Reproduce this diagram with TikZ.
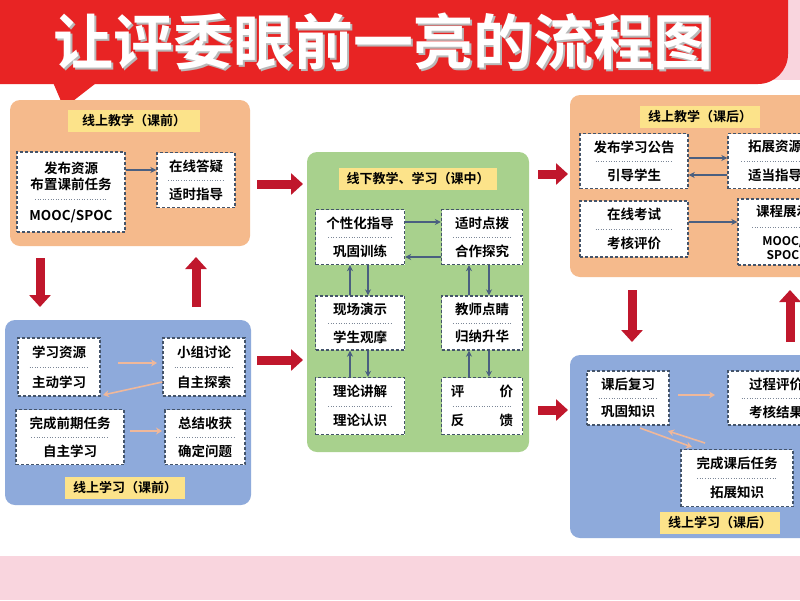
\documentclass[tikz,border=0pt]{standalone}
\usepackage{fontspec}
\setmainfont{Noto Sans CJK SC}[BoldFont={* Bold}]
\usetikzlibrary{arrows.meta,calc}
\definecolor{bgpink}{HTML}{F9D5DE}
\definecolor{tred}{HTML}{E82424}
\definecolor{orng}{HTML}{F5BA8C}
\definecolor{blu}{HTML}{8EAADB}
\definecolor{grn}{HTML}{A8D18D}
\definecolor{lab}{HTML}{FCE38A}
\definecolor{dk}{HTML}{44546A}
\definecolor{arr}{HTML}{4A5F80}
\definecolor{salm}{HTML}{F0B89A}
\definecolor{bigred}{HTML}{C0172C}
\tikzset{
 panel/.style={rounded corners=10pt,draw=none},
 ibox/.style={draw=dk,fill=white,dashed,line width=1.4pt,dash pattern=on 3pt off 2pt,inner sep=0},
 itxt/.style={font=\bfseries\fontsize{13.5}{16}\selectfont,text=black,align=center,inner sep=0},
 sep/.style={draw=dk!70,dotted,line width=0.6pt},
 lbl/.style={fill=lab,font=\bfseries\fontsize{13}{15}\selectfont,inner sep=3pt,minimum height=22pt},
 sm/.style={draw=arr,line width=1.3pt,-{Stealth[length=6pt,width=6pt]}},
 sa/.style={draw=salm,line width=1.6pt,-{Stealth[length=6pt,width=7pt]}},
 big/.style={draw=bigred,line width=9pt,-{Triangle[width=21pt,length=12pt]}},
}
% name, cx, cy, w, h, top, bottom
\newcommand\ibx[7]{%
 \node[ibox,minimum width=#4pt,minimum height=#5pt] (#1) at (#2,#3) {};
 \draw[sep] ($(#1.west)+(0.15*#4,0)$) -- ($(#1.east)-(0.15*#4,0)$);
 \node[itxt,anchor=center] (#1t) at ($(#1.center)!0.5!(#1.north)$) {#6};
 \node[itxt,anchor=center] (#1b) at ($(#1.center)!0.5!(#1.south)$) {#7};
}
\begin{document}
\begin{tikzpicture}[x=1pt,y=-1pt]
\useasboundingbox (0,0) rectangle (800,600);
\clip (0,0) rectangle (800,600);
\fill[white] (0,0) rectangle (800,600);
\fill[bgpink] (0,556) rectangle (800,600);
\fill[bgpink] (760,0) rectangle (800,80);
% title banner
\fill[tred,rounded corners=30pt] (-30,-30) rectangle (788,84);
\fill[tred] (52,80) -- (100,80) -- (64,108) -- cycle;
\node[font=\bfseries\fontsize{60}{66}\selectfont,text=gray!55] (titsh) at (385,43) {让评委眼前一亮的流程图};
\node[font=\bfseries\fontsize{60}{66}\selectfont,text=white] (tit) at (383,41) {让评委眼前一亮的流程图};
% panels
\fill[orng,panel] (10,100) rectangle (250,246);
\fill[blu,panel] (5,320) rectangle (251,505);
\fill[grn,panel] (307,152) rectangle (529,452);
\fill[orng,panel] (570,95) rectangle (830,277);
\fill[blu,panel] (570,355) rectangle (830,538);
% labels
\node[lbl,minimum width=132pt] (l1) at (134,121) {线上教学（课前）};
\node[lbl,minimum width=120pt] (l2) at (125,488) {线上学习（课前）};
\node[lbl,minimum width=158pt] (l3) at (418,179) {线下教学、学习（课中）};
\node[lbl,minimum width=120pt] (l4) at (700,117) {线上教学（课后）};
\node[lbl,minimum width=120pt] (l5) at (720,523) {线上学习（课后）};
% top-left
\node[ibox,minimum width=108pt,minimum height=80pt] (A) at (71,192) {};
\draw[sep] (35,199) -- (107,199);
\node[itxt] (At) at (71,176) {发布资源\\布置课前任务};
\node[itxt] (Ab) at (71,216) {MOOC/SPOC};
\ibx{B}{196}{180}{78}{55}{在线答疑}{适时指导}
\draw[sm] (A.east|-0,170) -- (B.west|-0,170);
% bottom-left
\ibx{C}{59}{367}{82}{58}{学习资源}{主动学习}
\ibx{D}{204}{367}{82}{58}{小组讨论}{自主探索}
\ibx{E}{70}{437}{108}{55}{完成前期任务}{自主学习}
\ibx{F}{205}{437}{80}{55}{总结收获}{确定问题}
\draw[sa] (118,363) -- (157,363);
\draw[sa] (D.west|-0,382) -- (103,395);
\draw[sa] (130,431) -- (162,431);
% green
\ibx{G}{360}{237}{89}{55}{个性化指导}{巩固训练}
\ibx{H}{482}{237}{81}{55}{适时点拨}{合作探究}
\ibx{I}{360}{323}{89}{54}{现场演示}{学生观摩}
\ibx{J}{482}{323}{81}{54}{教师点睛}{归纳升华}
\ibx{K}{360}{406}{89}{57}{理论讲解}{理论认识}
\ibx{L}{482}{406}{81}{57}{评\hspace{2.6em}价}{反\hspace{2.6em}馈}
\draw[sm] (G.east|-0,222) -- (H.west|-0,222);
\draw[sm] (H.west|-0,257) -- (G.east|-0,257);
\draw[sm] (I.north-|350,0) -- (G.south-|350,0);
\draw[sm] (G.south-|368,0) -- (I.north-|368,0);
\draw[sm] (K.north-|350,0) -- (I.south-|350,0);
\draw[sm] (I.south-|368,0) -- (K.north-|368,0);
\draw[sm] (J.north-|469,0) -- (H.south-|469,0);
\draw[sm] (H.south-|489,0) -- (J.north-|489,0);
\draw[sm] (L.north-|469,0) -- (J.south-|469,0);
\draw[sm] (J.south-|489,0) -- (L.north-|489,0);
% top-right
\ibx{M}{634}{161}{108}{55}{发布学习公告}{引导学生}
\ibx{N}{775}{161}{94}{55}{拓展资源}{适当指导}
\ibx{O}{634}{229}{108}{56}{在线考试}{考核评价}
\node[ibox,minimum width=90pt,minimum height=66pt] (P) at (783,232) {};
\draw[sep] (752,227) -- (814,227);
\node[itxt] (Pt) at (783,211) {课程展示};
\node[itxt,font=\bfseries\fontsize{12}{14}\selectfont] (Pb) at (783,248) {MOOC/\\SPOC};
\draw[sm] (M.east|-0,158) -- (N.west|-0,158);
\draw[sm] (N.west|-0,175) -- (M.east|-0,175);
\draw[sm] (O.east|-0,222) -- (P.west|-0,222);
% bottom-right
\ibx{Q}{628}{398}{82}{54}{课后复习}{巩固知识}
\ibx{R}{776}{398}{96}{54}{过程评价}{考核结果}
\ibx{S}{737}{478}{112}{57}{完成课后任务}{拓展知识}
\draw[sa] (678,395) -- (715,395);
\draw[sa] (640,428) -- (692,447);
\draw[sa] (705,443) -- (668,431);
% big red arrows
\coordinate (r1a) at (257,184); \coordinate (r1b) at (303,184);
\coordinate (r2a) at (257,360); \coordinate (r2b) at (303,360);
\coordinate (r3a) at (538,174); \coordinate (r3b) at (568,174);
\coordinate (r4a) at (538,410); \coordinate (r4b) at (568,410);
\coordinate (d1a) at (40,258); \coordinate (d1b) at (40,307);
\coordinate (u1a) at (196,307); \coordinate (u1b) at (196,257);
\coordinate (d2a) at (632,290); \coordinate (d2b) at (632,342);
\coordinate (u2a) at (790,342); \coordinate (u2b) at (790,290);
\foreach \a/\b in {r1a/r1b,r2a/r2b,r3a/r3b,r4a/r4b,d1a/d1b,u1a/u1b,d2a/d2b,u2a/u2b}
  \draw[big] (\a) -- (\b);
\end{tikzpicture}
\end{document}
